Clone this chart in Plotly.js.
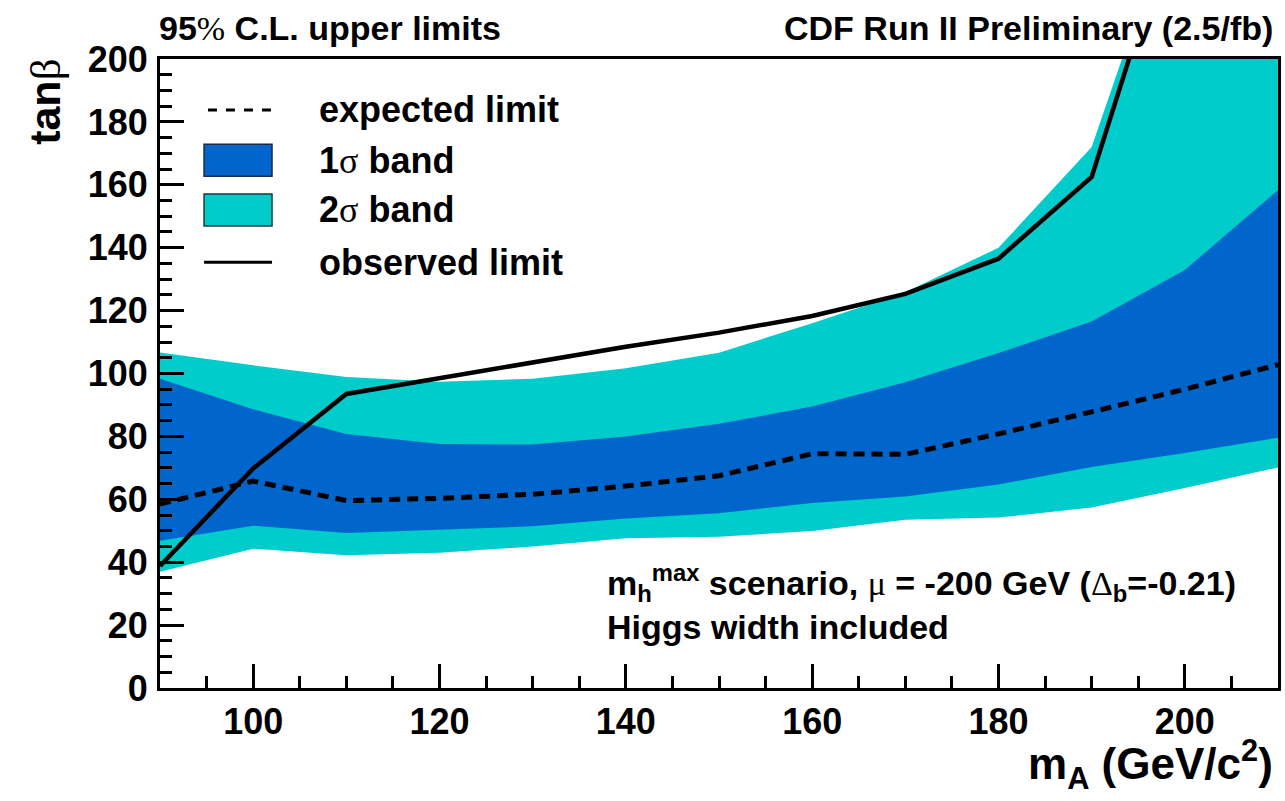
<!DOCTYPE html>
<html>
<head>
<meta charset="utf-8">
<script src="https://cdn.plot.ly/plotly-3.0.1.min.js"></script>
<style>
  html, body { margin: 0; padding: 0; background: #ffffff; }
  #chart { width: 1285px; height: 801px; }
</style>
</head>
<body>
<div id="chart"></div>
<script>
// Higgs mass points (GeV/c^2)
const mA = [90, 100, 110, 120, 130, 140, 150, 160, 170, 180, 190, 200, 210];

// 95% C.L. upper limits on tan(beta)
const observed = [38.8, 69.8, 93.5, 98.5, 103.8, 108.5, 113.0, 118.3, 125.3, 136.5, 162.5, 256, 330];
const expected = [58.5, 65.8, 59.6, 60.3, 61.6, 64.2, 67.5, 74.5, 74.3, 80.8, 87.8, 95.0, 102.8];

// expected-limit bands
const band1Up = [98.3, 88.6, 80.8, 77.6, 77.4, 80.0, 84.0, 89.5, 97.2, 106.5, 116.5, 132.9, 158.3];
const band1Lo = [46.8, 51.6, 49.3, 50.4, 51.4, 53.9, 55.6, 58.8, 60.9, 64.7, 70.3, 74.7, 79.6];
const band2Up = [106.7, 102.6, 98.9, 97.4, 98.3, 101.7, 106.6, 116.0, 125.8, 140.0, 172.0, 258, 330];
const band2Lo = [37.0, 44.3, 42.2, 43.0, 45.0, 47.6, 48.1, 49.9, 53.5, 54.2, 57.4, 63.6, 70.1];

// legend labels
const legendLabels = ['expected limit', '1σ band', '2σ band', 'observed limit'];

const CYAN = 'rgb(0,204,204)';
const BLUE = 'rgb(0,102,204)';
const SANS = 'Liberation Sans, Arial, sans-serif';
const SERIF = 'font-family:Liberation Serif;font-weight:normal';
const sym = s => '<span style="' + SERIF + '">' + s + '</span>';

const traces = [
  { x: mA, y: band2Lo, mode: 'lines', line: { width: 0 }, hoverinfo: 'skip', showlegend: false },
  { x: mA, y: band2Up, mode: 'lines', line: { width: 0 }, fill: 'tonexty', fillcolor: CYAN, hoverinfo: 'skip', showlegend: false },
  { x: mA, y: band1Lo, mode: 'lines', line: { width: 0 }, hoverinfo: 'skip', showlegend: false },
  { x: mA, y: band1Up, mode: 'lines', line: { width: 0 }, fill: 'tonexty', fillcolor: BLUE, hoverinfo: 'skip', showlegend: false },
  { x: mA, y: expected, mode: 'lines', line: { color: 'black', width: 5, dash: '11px,7px' }, showlegend: false },
  { x: mA, y: observed, mode: 'lines', line: { color: 'black', width: 4.5 }, showlegend: false }
];

// legend block, placed in the upper-left of the frame
const legX0 = 0.0394, legX1 = 0.1002, legTextX = 0.1404;
const rowY = [0.919, 0.839, 0.760, 0.677];
const boxH = 0.0255;

const shapes = [
  { type: 'line', xref: 'paper', yref: 'paper', x0: legX0 + 0.0035, x1: legX1, y0: rowY[0], y1: rowY[0],
    line: { color: 'black', width: 3, dash: '9px,9px' } },
  { type: 'rect', xref: 'paper', yref: 'paper', x0: legX0, x1: legX1, y0: rowY[1] - boxH, y1: rowY[1] + boxH,
    fillcolor: BLUE, line: { color: '#1a2a4a', width: 1.5 } },
  { type: 'rect', xref: 'paper', yref: 'paper', x0: legX0, x1: legX1, y0: rowY[2] - boxH, y1: rowY[2] + boxH,
    fillcolor: CYAN, line: { color: '#1a3a3a', width: 1.5 } },
  { type: 'line', xref: 'paper', yref: 'paper', x0: legX0, x1: legX1, y0: rowY[3], y1: rowY[3],
    line: { color: 'black', width: 3 } }
];

const legendText = [
  legendLabels[0],
  '1' + sym('σ') + ' band',
  '2' + sym('σ') + ' band',
  legendLabels[3]
];

const annotations = legendText.map((t, i) => ({
  text: t, xref: 'paper', yref: 'paper', x: legTextX, y: rowY[i],
  xanchor: 'left', yanchor: 'middle', showarrow: false,
  font: { family: SANS, size: 36, weight: 'bold', color: 'black' }
}));

annotations.push(
  { text: '95' + sym('%') + ' C.L. upper limits', xref: 'paper', yref: 'paper', x: -0.003, y: 1.049,
    xanchor: 'left', yanchor: 'middle', showarrow: false,
    font: { family: SANS, size: 34, weight: 'bold', color: 'black' } },
  { text: 'CDF Run II Preliminary (2.5/fb)', xref: 'paper', yref: 'paper', x: 0.9973, y: 1.049,
    xanchor: 'right', yanchor: 'middle', showarrow: false,
    font: { family: SANS, size: 34, weight: 'bold', color: 'black' } },
  { text: 'm<sub>h</sub><sup>max</sup> scenario, ' + sym('μ') + ' = -200 GeV (' + sym('Δ') + '<sub>b</sub>=-0.21)',
    xref: 'paper', yref: 'paper', x: 0.398, y: 0.167,
    xanchor: 'left', yanchor: 'middle', showarrow: false,
    font: { family: SANS, size: 34, weight: 'bold', color: 'black' } },
  { text: 'Higgs width included',
    xref: 'paper', yref: 'paper', x: 0.398, y: 0.097,
    xanchor: 'left', yanchor: 'middle', showarrow: false,
    font: { family: SANS, size: 34, weight: 'bold', color: 'black' } },
  { text: 'm<sub>A</sub> (GeV/c<sup>2</sup>)', xref: 'paper', yref: 'paper', x: 0.9973, y: -0.122,
    xanchor: 'right', yanchor: 'middle', showarrow: false,
    font: { family: SANS, size: 44, weight: 'bold', color: 'black' } },
  { text: 'tan' + sym('β'), xref: 'paper', yref: 'paper', x: -0.103, y: 0.9316,
    xanchor: 'center', yanchor: 'middle', textangle: -90, showarrow: false,
    font: { family: SANS, size: 43, weight: 'bold', color: 'black' } }
);

const axisCommon = {
  showgrid: false, zeroline: false,
  showline: true, linecolor: 'black', linewidth: 3, mirror: true,
  ticks: 'inside', ticklen: 24, tickwidth: 3, tickcolor: 'black',
  tickfont: { family: SANS, size: 36, weight: 'bold', color: 'black' },
  minor: { ticks: 'inside', dtick: 5, ticklen: 12, tickwidth: 3, tickcolor: 'black' },
  fixedrange: true
};

const layout = {
  width: 1285, height: 801,
  margin: { l: 160, r: 7, t: 59, b: 113 },
  paper_bgcolor: 'white', plot_bgcolor: 'white',
  showlegend: false,
  xaxis: Object.assign({}, axisCommon, { range: [90, 210], tick0: 0, dtick: 20, ticklabelstandoff: 0 }),
  yaxis: Object.assign({}, axisCommon, { range: [0, 200], tick0: 0, dtick: 20, ticklabelstandoff: 2 }),
  shapes: shapes,
  annotations: annotations
};

Plotly.newPlot('chart', traces, layout, { staticPlot: true, displayModeBar: false });
</script>
</body>
</html>
